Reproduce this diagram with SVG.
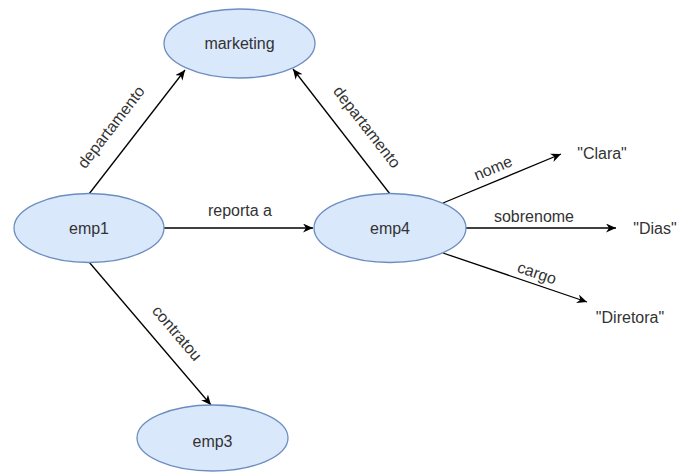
<svg xmlns="http://www.w3.org/2000/svg" width="678" height="472" viewBox="0 0 678 472">
  <style>
    .node ellipse { fill: #dae8fc; stroke: #6c8ebf; stroke-width: 1.3; }
    text { font-family: "Liberation Sans", Arial, sans-serif; font-size: 16px; fill: #333333; text-anchor: middle; }
    .edge { stroke: #000000; stroke-width: 1.3; fill: none; marker-end: url(#arrow); }
  </style>
  <defs>
    <marker id="arrow" markerUnits="userSpaceOnUse" markerWidth="12" markerHeight="10" refX="10" refY="4.5" orient="auto">
      <path d="M0,0 L10,4.5 L0,9 L3,4.5 Z" fill="#000000"/>
    </marker>
  </defs>
  <rect width="678" height="472" fill="#ffffff"/>

  <g id="connectors">
    <line class="edge" x1="89" y1="194" x2="185" y2="70"/>
    <line class="edge" x1="164" y1="228" x2="313" y2="228"/>
    <line class="edge" x1="390" y1="194" x2="293" y2="69"/>
    <line class="edge" x1="443" y1="203" x2="561" y2="154"/>
    <line class="edge" x1="466" y1="228" x2="616" y2="228"/>
    <line class="edge" x1="443" y1="253" x2="587" y2="302"/>
    <line class="edge" x1="89" y1="262" x2="211" y2="405"/>

    <text transform="translate(111,127) rotate(-52.3)" dy="5.5">departamento</text>
    <text x="240" y="215.5">reporta a</text>
    <text transform="translate(367,127) rotate(52.2)" dy="5.5">departamento</text>
    <text transform="translate(493,168) rotate(-22.7)" dy="5.5">nome</text>
    <text x="534" y="221.5">sobrenome</text>
    <text transform="translate(537,273) rotate(18.8)" dy="5.5">cargo</text>
    <text transform="translate(177,333) rotate(49.5)" dy="5.5">contratou</text>
  </g>

  <g id="marketing" class="node">
    <ellipse cx="239.5" cy="43.5" rx="75.5" ry="34.5"/>
    <text x="239.5" y="49">marketing</text>
  </g>
  <g id="emp1" class="node">
    <ellipse cx="89" cy="228" rx="75" ry="34.5"/>
    <text x="89" y="234">emp1</text>
  </g>
  <g id="emp4" class="node">
    <ellipse cx="390" cy="228" rx="76" ry="34.5"/>
    <text x="390" y="234">emp4</text>
  </g>
  <g id="emp3" class="node">
    <ellipse cx="212.5" cy="438" rx="75.5" ry="33"/>
    <text x="212.5" y="447">emp3</text>
  </g>
  <g id="clara">
    <text x="602" y="159">"Clara"</text>
  </g>
  <g id="dias">
    <text x="655" y="234">"Dias"</text>
  </g>
  <g id="diretora">
    <text x="630" y="323">"Diretora"</text>
  </g>
</svg>
